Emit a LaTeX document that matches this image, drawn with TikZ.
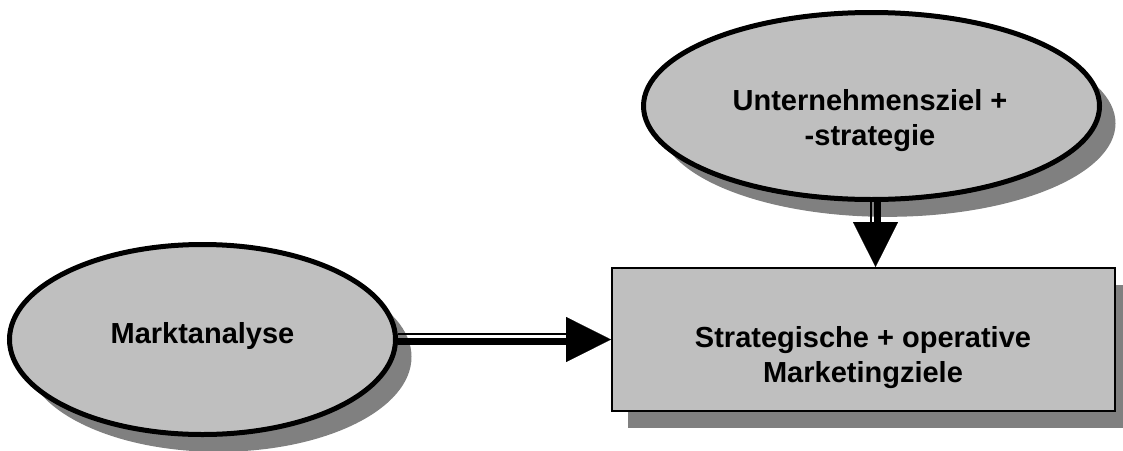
\documentclass[tikz,border=0pt]{standalone}
\usepackage{fontspec}
\setmainfont{Liberation Sans}
\usetikzlibrary{shapes.geometric,shadows,arrows.meta}

\tikzset{
  schatten/.style={drop shadow={shadow xshift=12pt, shadow yshift=-13pt, fill=black!50, opacity=1}},
  oval/.style={ellipse, draw=black, line width=3.75pt, fill=black!25, inner sep=0pt, schatten},
  kasten/.style={rectangle, draw=black, line width=1.5pt, fill=black!25, inner sep=0pt, schatten},
  beschrift/.style={font=\fontsize{21.75}{26.25}\selectfont\bfseries, align=center, inner sep=0pt},
  duenn/.style={line width=1.5pt, shorten >=15pt},
  dick/.style={line width=5.25pt, shorten >=15pt},
  spitze/.style={line width=0.2pt, -{Triangle[length=33.75pt, width=33.75pt]}}
}

\begin{document}
\begin{tikzpicture}[x=0.75pt, y=-0.75pt]
      \useasboundingbox (0,0) rectangle (1123,450);

      % Marktanalyse
      \node[oval, minimum width=289.5pt, minimum height=142.5pt] (markt) at (202.5,339.5) {};
      \node[beschrift, anchor=base] (markttext) at (202.5,343.3) {Marktanalyse};

      % Unternehmensziel
      \node[oval, minimum width=342pt, minimum height=140.25pt] (ziel) at (871.5,106) {};
      \node[beschrift, anchor=north] (zieltext) at (870,89) {Unternehmensziel +\\-strategie};

      % Marketingziele
      \node[kasten, minimum width=377.25pt, minimum height=107.25pt] (ziele) at (863.5,339.5) {};
      \node[beschrift, anchor=north] (zieletext) at (863,326) {Strategische + operative\\Marketingziele};

      % Pfeil Marktanalyse -> Marketingziele
      \draw[duenn] ([yshift=4.1pt]markt.east) -- ([yshift=4.1pt]ziele.west);
      \draw[dick] ([yshift=-1.5pt]markt.east) -- ([yshift=-1.5pt]ziele.west);
      \draw[spitze] (markt.east) -- (ziele.west);

      % Pfeil Unternehmensziel -> Marketingziele
      \coordinate (zielfuss) at ([xshift=3pt]ziel.south);
      \coordinate (zielkopf) at (zielfuss |- ziele.north);
      \draw[duenn] ([xshift=-3.4pt]zielfuss) -- ([xshift=-3.4pt]zielkopf);
      \draw[dick] ([xshift=1.5pt]zielfuss) -- ([xshift=1.5pt]zielkopf);
      \draw[spitze] (zielfuss) -- (zielkopf);
    \end{tikzpicture}
\end{document}
